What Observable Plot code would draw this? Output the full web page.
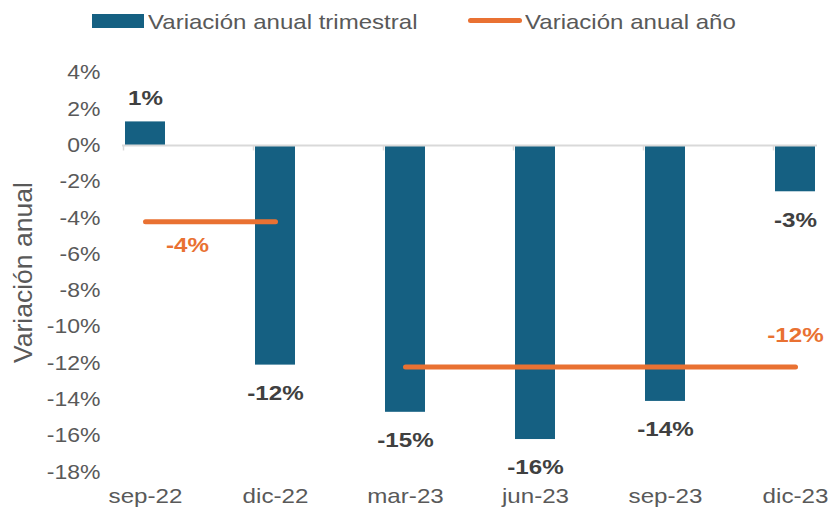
<!DOCTYPE html>
<html><head><meta charset="utf-8">
<script src="https://cdn.jsdelivr.net/npm/d3@7"></script>
<script src="https://cdn.jsdelivr.net/npm/@observablehq/plot@0.6"></script>
<style>
body{margin:0;background:#fff;font-family:"Liberation Sans",Arial,sans-serif}
#legend{position:relative;width:830px;height:40px;color:#595959}
#legend .sw{position:absolute}
#legend .lt{position:absolute;font-size:21px;line-height:21px;white-space:nowrap;transform:scaleX(1.145);transform-origin:0 50%}
</style>
</head><body>
<div id="legend"></div>
<div id="chart"></div>
<script>
// ---- data ----
const quarters = ["sep-22", "dic-22", "mar-23", "jun-23", "sep-23", "dic-23"];
const quarterYear = ["2022", "2022", "2023", "2023", "2023", "2023"];
const quarterlyChange = [1.3, -12.1, -14.7, -16.2, -14.1, -2.55];
const years = ["2022", "2023"];
const annualChange = [-4.2, -12.2];
const annualLabelAt = ["sep-22", "dic-23"];
const yTicks = [4, 2, 0, -2, -4, -6, -8, -10, -12, -14, -16, -18];
const seriesNames = ["Variación anual trimestral", "Variación anual año"];
const yTitle = "Variación anual";

// ---- styles ----
const blue = "#156082", orange = "#E97132";
const labelColor = "#404040", axisColor = "#595959", gridColor = "#D9D9D9";
const stretch = 1.15; // horizontal text stretch seen in the reference

const rows = quarters.map((q, i) => ({
  q, year: quarterYear[i], value: quarterlyChange[i],
  annual: annualChange[years.indexOf(quarterYear[i])]
}));
const annualLabels = years.map((y, i) => ({q: annualLabelAt[i], year: y, annual: annualChange[i]}));
const pct = v => Math.round(v) + "%";

// legend
const legend = document.getElementById("legend");
legend.innerHTML = `
  <div class="sw" style="left:92px;top:14px;width:52px;height:14px;background:${blue}"></div>
  <span class="lt" style="left:148px;top:10.5px">${seriesNames[0]}</span>
  <div class="sw" style="left:468px;top:18px;width:54px;height:5px;border-radius:3px;background:${orange}"></div>
  <span class="lt" style="left:525px;top:10.5px">${seriesNames[1]}</span>`;

const chart = Plot.plot({
  width: 830,
  height: 470,
  marginTop: 32.4,
  marginBottom: 38.3,
  marginLeft: 122,
  marginRight: 13,
  style: {fontFamily: '"Liberation Sans", Arial, sans-serif', fontSize: "20px", color: axisColor, background: "#fff"},
  x: {type: "band", domain: quarters, paddingInner: 0.693, paddingOuter: 0.0135, align: 0.5,
      tickSize: 0, tickPadding: 16, label: null},
  y: {domain: [-18, 4], ticks: yTicks, tickFormat: d => d + "%", tickSize: 0, tickPadding: 22, label: null},
  marks: [
    Plot.barY(rows, {x: "q", y: "value", fill: blue}),
    Plot.ruleY([0], {stroke: gridColor, strokeWidth: 2}),
    Plot.ruleX(rows, {x: "q", dx: -22, y1: 0, y2: -0.3, stroke: gridColor, strokeWidth: 1.5}),
    Plot.line(rows, {x: "q", y: "annual", z: "year", stroke: orange, strokeWidth: 5, strokeLinecap: "round"}),
    Plot.text(rows.filter(d => d.value >= 0), {x: "q", y: "value", text: d => pct(d.value), dy: -24,
      fill: labelColor, fontWeight: "bold", fontSize: 21}),
    Plot.text(rows.filter(d => d.value < 0), {x: "q", y: "value", text: d => pct(d.value), dy: 28,
      fill: labelColor, fontWeight: "bold", fontSize: 21}),
    Plot.text(annualLabels.filter(d => d.year === "2022"), {x: "q", y: "annual", text: d => pct(d.annual), dx: 42, dy: 24,
      fill: orange, fontWeight: "bold", fontSize: 21}),
    Plot.text(annualLabels.filter(d => d.year === "2023"), {x: "q", y: "annual", text: d => pct(d.annual), dy: -32,
      fill: orange, fontWeight: "bold", fontSize: 21}),
    Plot.text([yTitle], {frameAnchor: "left", textAnchor: "middle", rotate: -90, dx: -99, fill: axisColor, fontSize: 26.5})
  ]
});
document.getElementById("chart").appendChild(chart);

// x tick labels slightly larger than y tick labels
d3.select(chart).selectAll("g[aria-label='x-axis tick label'] text, g[aria-label='x-axis'] text").attr("font-size", 21);

// widen horizontal texts to match the reference proportions
d3.select(chart).selectAll("text").each(function () {
  if (this.textContent === yTitle) return;
  const len = this.getComputedTextLength();
  if (len > 0) {
    this.setAttribute("textLength", (len * stretch).toFixed(1));
    this.setAttribute("lengthAdjust", "spacingAndGlyphs");
  }
});
</script>
</body></html>
